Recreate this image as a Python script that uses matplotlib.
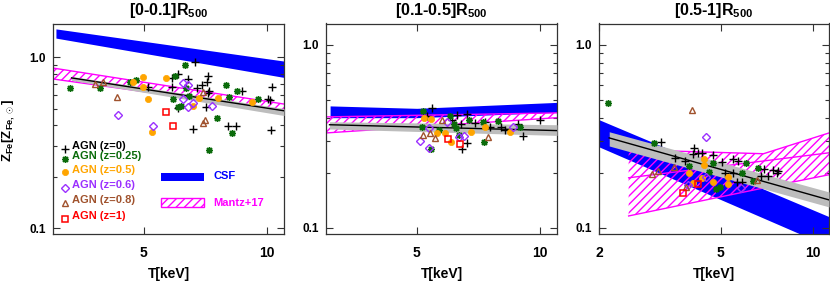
import numpy as np
import matplotlib
matplotlib.use("Agg")
import matplotlib.pyplot as plt
from matplotlib.patches import Rectangle
from matplotlib.ticker import FixedLocator, NullLocator, FixedFormatter, NullFormatter

plt.rcParams["font.family"] = ["Liberation Sans", "DejaVu Sans"]
plt.rcParams["font.weight"] = "bold"
plt.rcParams["mathtext.fontset"] = "custom"
plt.rcParams["mathtext.rm"] = "Liberation Sans:bold"
plt.rcParams["mathtext.bf"] = "Liberation Sans:bold"
plt.rcParams["mathtext.it"] = "Liberation Sans:bold"
plt.rcParams["mathtext.default"] = "bf"
plt.rcParams["hatch.linewidth"] = 1.0

# ---------------------------- DATA -------------------------------------
titles     = ["[0-0.1]R$_{500}$", "[0.1-0.5]R$_{500}$", "[0.5-1]R$_{500}$"]
agn_labels = ["AGN (z=0)", "AGN (z=0.25)", "AGN (z=0.5)",
              "AGN (z=0.6)", "AGN (z=0.8)", "AGN (z=1)"]

# panel 1 : [0-0.1] R500
p1_T_z0   = [6.66, 7.17, 7.13, 5.85, 6.06, 6.40, 5.85, 6.93, 6.74, 7.21, 7.17,
             5.11, 8.68, 10.28, 10.05, 10.16, 6.06, 7.09, 6.59, 8.02, 8.39, 10.22]
p1_Z_z0   = [0.935, 0.774, 0.714, 0.754, 0.796, 0.744, 0.668, 0.686, 0.659, 0.633, 0.616,
             0.668, 0.633, 0.668, 0.568, 0.560, 0.503, 0.510, 0.379, 0.395, 0.395, 0.374]
p1_T_z025 = [6.30, 5.95, 4.78, 4.62, 3.90, 3.30, 7.93, 8.44, 6.33, 8.07, 9.50,
             5.89, 6.16, 6.06, 7.54, 8.21, 7.21, 6.44]
p1_Z_z025 = [0.898, 0.774, 0.734, 0.714, 0.659, 0.659, 0.686, 0.633, 0.659, 0.584, 0.568,
             0.568, 0.517, 0.510, 0.440, 0.359, 0.286, 0.592]
p1_T_z05  = [4.97, 4.70, 5.66, 4.97, 5.11, 6.59, 6.81, 7.59, 9.18, 5.23]
p1_Z_z05  = [0.764, 0.714, 0.754, 0.668, 0.568, 0.517, 0.576, 0.576, 0.545, 0.364]
p1_T_z06  = [6.23, 6.40, 6.23, 6.59, 6.40, 7.33, 4.32, 5.26]
p1_Z_z06  = [0.705, 0.686, 0.568, 0.538, 0.510, 0.517, 0.458, 0.395]
p1_T_z08  = [3.80, 3.97, 4.30, 6.97, 7.05, 6.97]
p1_Z_z08  = [0.695, 0.714, 0.584, 0.624, 0.428, 0.411]
p1_T_z1   = [5.66, 5.89]
p1_Z_z1   = [0.477, 0.395]

p1_csf_T   = [3.05, 11.0];  p1_csf_hi   = [1.46, 0.947];  p1_csf_lo   = [1.29, 0.76]
p1_mantz_T = [3.0, 11.0];   p1_mantz_hi = [0.862, 0.531]; p1_mantz_lo = [0.744, 0.483]
p1_fit_T   = [3.33, 11.0];  p1_fit      = [0.755, 0.485]
p1_fit_hi  = [0.77, 0.50];  p1_fit_lo   = [0.73, 0.455]

# panel 2 : [0.1-0.5] R500
p2_T_z0   = [5.46, 6.62, 6.27, 6.95, 7.35, 7.55, 8.02, 8.20, 8.81, 9.99, 9.10,
             6.62, 6.44, 6.09, 5.28, 6.40]
p2_Z_z0   = [0.452, 0.420, 0.414, 0.375, 0.380, 0.356, 0.356, 0.343, 0.370, 0.389, 0.318,
             0.291, 0.270, 0.389, 0.409, 0.370]
p2_T_z025 = [5.17, 6.03, 6.69, 7.27, 7.89, 8.95, 6.16, 5.67, 6.33, 7.31, 5.40, 5.14, 6.23]
p2_Z_z025 = [0.436, 0.409, 0.389, 0.380, 0.384, 0.356, 0.370, 0.343, 0.322, 0.295, 0.270, 0.356, 0.352]
p2_T_z05  = [5.22, 5.43, 5.61, 5.86, 6.06, 6.80, 7.35, 8.43]
p2_Z_z05  = [0.399, 0.394, 0.330, 0.330, 0.295, 0.335, 0.356, 0.335]
p2_T_z06  = [5.08, 5.34, 5.93, 6.33, 6.51, 8.57, 5.34]
p2_Z_z06  = [0.299, 0.274, 0.380, 0.314, 0.318, 0.356, 0.352]
p2_T_z08  = [5.19, 5.37, 5.55, 7.47, 5.77]
p2_Z_z08  = [0.322, 0.330, 0.310, 0.314, 0.389]
p2_T_z1   = [5.96, 6.37]
p2_Z_z1   = [0.306, 0.288]

p2_csf_T   = [3.07, 5.0, 11.0]; p2_csf_hi = [0.464, 0.45, 0.485]; p2_csf_lo = [0.40, 0.40, 0.428]
p2_mantz_T = [3.0, 11.0];   p2_mantz_hi = [0.404, 0.425]; p2_mantz_lo = [0.330, 0.400]
p2_fit_T   = [3.06, 11.0];  p2_fit      = [0.366, 0.340]
p2_fit_hi  = [0.38, 0.366]; p2_fit_lo   = [0.347, 0.32]

# panel 3 : [0.5-1] R500
p3_T_z0   = [3.19, 3.55, 4.09, 4.06, 4.21, 4.34, 4.72, 3.82, 5.05, 5.48, 5.69,
             5.48, 5.65, 5.87, 6.92, 7.41, 7.69, 7.63, 6.77, 7.13, 5.16]
p3_Z_z0   = [0.295, 0.241, 0.274, 0.254, 0.257, 0.257, 0.251, 0.232, 0.229, 0.238, 0.232,
             0.200, 0.178, 0.178, 0.210, 0.2075, 0.205, 0.200, 0.192, 0.192, 0.200]
p3_T_z025 = [2.14, 3.02, 4.72, 6.05, 6.62, 5.87, 6.37, 4.82, 4.97, 4.58, 3.94]
p3_Z_z025 = [0.482, 0.291, 0.2265, 0.2265, 0.213, 0.200, 0.181, 0.163, 0.1675, 0.202, 0.218]
p3_T_z05  = [4.41, 4.72, 5.28, 5.28, 3.94, 4.06, 4.34, 4.41]
p3_Z_z05  = [0.238, 0.178, 0.190, 0.174, 0.200, 0.176, 0.1876, 0.221]
p3_T_z06  = [4.47, 5.82, 4.47, 3.91]
p3_Z_z06  = [0.314, 0.165, 0.190, 0.172]
p3_T_z08  = [4.03, 2.98, 3.12, 3.52, 3.85, 6.57]
p3_Z_z08  = [0.441, 0.197, 0.205, 0.215, 0.1675, 0.183]
p3_T_z1   = [3.76, 4.21]
p3_Z_z1   = [0.155, 0.174]

p3_csf_T   = [2.0, 11.3];  p3_csf_hi   = [0.39, 0.115]; p3_csf_lo = [0.277, 0.079]
p3_mantz_T = [2.5, 6.9, 11.3]
p3_mantz_hi = [0.267, 0.254, 0.33]; p3_mantz_lo = [0.116, 0.165, 0.195]
p3_mantz_mid_T = [2.5, 11.3]; p3_mantz_mid = [0.1876, 0.257]
p3_fit_T   = [2.16, 11.3]; p3_fit      = [0.31, 0.142]
p3_fit_hi  = [0.335, 0.157]; p3_fit_lo = [0.28, 0.13]

xlims  = [(3.0, 11.0), (3.0, 11.0), (2.0, 11.3)]
ylims  = [(0.093, 1.57), (0.093, 1.31), (0.093, 1.31)]
xticks = [[5, 10], [5, 10], [2, 5, 10]]

# ---------------------------- STYLE ------------------------------------
agn_colors = ["black", "#0b6b0b", "#ffa500", "#9b30ff", "#a0522d", "#ff0000"]
agn_mk = [dict(marker="+", ms=5.5, mew=1.0),
          dict(marker=(8, 2, 0), ms=5.0, mew=1.0),
          dict(marker="o", ms=4.5, mew=0.5),
          dict(marker="D", ms=4.0, mew=1.0, mfc="none"),
          dict(marker="^", ms=5.0, mew=1.0, mfc="none"),
          dict(marker="s", ms=4.8, mew=1.1, mfc="none")]
BLUE, MAG, GRAY = "#0000ff", "#ff00ff", "#bdbdbd"

panels = [
    dict(T=[p1_T_z0, p1_T_z025, p1_T_z05, p1_T_z06, p1_T_z08, p1_T_z1],
         Z=[p1_Z_z0, p1_Z_z025, p1_Z_z05, p1_Z_z06, p1_Z_z08, p1_Z_z1],
         csf=(p1_csf_T, p1_csf_lo, p1_csf_hi), mantz=(p1_mantz_T, p1_mantz_lo, p1_mantz_hi),
         mid=None, fit=(p1_fit_T, p1_fit, p1_fit_lo, p1_fit_hi)),
    dict(T=[p2_T_z0, p2_T_z025, p2_T_z05, p2_T_z06, p2_T_z08, p2_T_z1],
         Z=[p2_Z_z0, p2_Z_z025, p2_Z_z05, p2_Z_z06, p2_Z_z08, p2_Z_z1],
         csf=(p2_csf_T, p2_csf_lo, p2_csf_hi), mantz=(p2_mantz_T, p2_mantz_lo, p2_mantz_hi),
         mid=None, fit=(p2_fit_T, p2_fit, p2_fit_lo, p2_fit_hi)),
    dict(T=[p3_T_z0, p3_T_z025, p3_T_z05, p3_T_z06, p3_T_z08, p3_T_z1],
         Z=[p3_Z_z0, p3_Z_z025, p3_Z_z05, p3_Z_z06, p3_Z_z08, p3_Z_z1],
         csf=(p3_csf_T, p3_csf_lo, p3_csf_hi), mantz=(p3_mantz_T, p3_mantz_lo, p3_mantz_hi),
         mid=(p3_mantz_mid_T, p3_mantz_mid), fit=(p3_fit_T, p3_fit, p3_fit_lo, p3_fit_hi)),
]

fig = plt.figure(figsize=(8.3, 2.86), dpi=100)
lefts = [53/830, 326/830, 599/830]
widths = [231/830, 231/830, 230/830]

for i, p in enumerate(panels):
    ax = fig.add_axes([lefts[i], 52.5/286, widths[i], 210/286])
    ax.set_xscale("log"); ax.set_yscale("log")

    # CSF band
    t, lo, hi = p["csf"]
    ax.fill_between(t, lo, hi, color=BLUE, lw=0, zorder=1)
    # Mantz+17 hatched band
    t, lo, hi = p["mantz"]
    ax.fill_between(t, lo, hi, facecolor="none", edgecolor=MAG, hatch="////", lw=0, zorder=2)
    ax.plot(t, lo, color=MAG, lw=1, zorder=2)
    ax.plot(t, hi, color=MAG, lw=1, zorder=2)
    if p["mid"] is not None:
        ax.plot(p["mid"][0], p["mid"][1], color=MAG, lw=1, zorder=2)
    # best fit + scatter
    t, f, lo, hi = p["fit"]
    ax.fill_between(t, lo, hi, color=GRAY, lw=0, zorder=3)
    ax.plot(t, f, color="black", lw=1, zorder=4)

    for T, Z, c, mk in zip(p["T"], p["Z"], agn_colors, agn_mk):
        ax.plot(T, Z, ls="none", color=c, mec=c, zorder=5, **mk)

    ax.set_xlim(*xlims[i]); ax.set_ylim(*ylims[i])
    ax.xaxis.set_major_locator(FixedLocator(xticks[i]))
    ax.xaxis.set_major_formatter(FixedFormatter([str(v) for v in xticks[i]]))
    ax.xaxis.set_minor_locator(NullLocator())
    ax.yaxis.set_major_locator(FixedLocator([0.1, 1.0]))
    ax.yaxis.set_major_formatter(FixedFormatter(["0.1", "1.0"]))
    ax.yaxis.set_minor_locator(FixedLocator([0.2, 0.3, 0.4, 0.5, 0.6, 0.7, 0.8, 0.9]))
    ax.yaxis.set_minor_formatter(NullFormatter())
    ax.tick_params(which="both", direction="in", top=True, right=True, color="#333333")
    ax.tick_params(which="major", length=5, width=0.8)
    ax.tick_params(which="minor", length=3, width=0.8)
    ax.tick_params(axis="x", labelsize=10, pad=9)
    ax.tick_params(axis="y", labelsize=8.5, pad=5)
    for s in ax.spines.values():
        s.set_color("#333333"); s.set_linewidth(0.9)
    ax.set_xlabel("T[keV]", fontsize=10, fontweight="bold", labelpad=5)
    ax.set_title(titles[i], fontsize=11.5, fontweight="bold", pad=6)

    if i == 0:
        tx, mx = 0.082, 0.052
        ty = [0.417, 0.370, 0.303, 0.232, 0.161, 0.081]
        my = [0.403, 0.355, 0.294, 0.218, 0.147, 0.071]
        for lab, c, mk, a, b in zip(agn_labels, agn_colors, agn_mk, ty, my):
            ax.plot([mx], [b], ls="none", color=c, mec=c, transform=ax.transAxes,
                    clip_on=False, zorder=6, **mk)
            ax.text(tx, a, lab, color=c, fontsize=8, fontweight="bold",
                    va="center", ha="left", transform=ax.transAxes)
        ax.add_patch(Rectangle((0.468, 0.251), 0.186, 0.038, facecolor=BLUE,
                               edgecolor="none", transform=ax.transAxes))
        ax.text(0.693, 0.272, "CSF", color=BLUE, fontsize=8, fontweight="bold",
                va="center", ha="left", transform=ax.transAxes)
        ax.add_patch(Rectangle((0.468, 0.128), 0.186, 0.043, facecolor="none",
                               edgecolor=MAG, hatch="////", lw=1, transform=ax.transAxes))
        ax.text(0.693, 0.147, "Mantz+17", color=MAG, fontsize=8, fontweight="bold",
                va="center", ha="left", transform=ax.transAxes)

fig.text(9/830, 1 - 130/286, r"Z$_{\rm Fe}$[Z$_{{\rm Fe},\odot}$]", rotation=90,
         fontsize=9.5, fontweight="bold", ha="center", va="center")

fig.savefig("out.png", dpi=100)
